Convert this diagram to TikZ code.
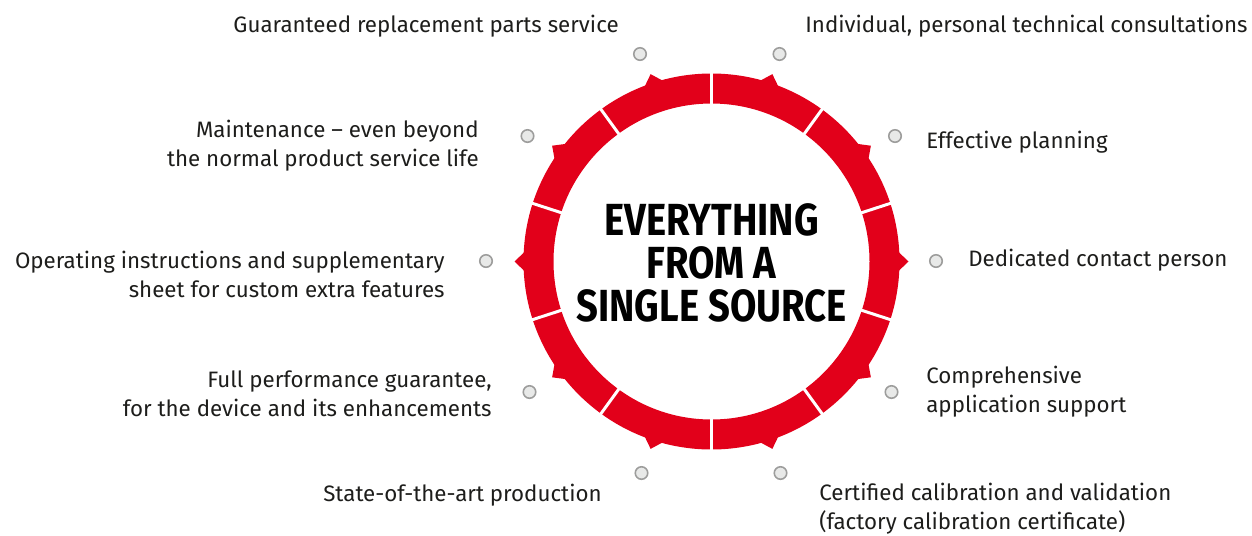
\documentclass[tikz,border=0pt]{standalone}
\usepackage{fontspec}
\setmainfont{Fira Sans}
\newfontfamily\hubfont{Fira Sans}[FakeStretch=0.85]
\usepackage{xcolor}
\usetikzlibrary{positioning}

\definecolor{ringred}{HTML}{E2001A}
\definecolor{dotline}{HTML}{9D9D9C}
\definecolor{dotfill}{HTML}{E8E9E8}
\definecolor{ink}{HTML}{1D1D1B}

\begin{document}
\begin{tikzpicture}[
  x=0.02cm, y=-0.02cm,
  item/.style={inner sep=0pt, text=ink, font=\fontsize{12.7}{16.5}\selectfont},
  itemleft/.style={item, anchor=east, align=right},
  itemright/.style={item, anchor=west, align=left},
  dot/.style={draw=dotline, fill=dotfill, circle, line width=0.9pt, minimum size=0.25cm, inner sep=0pt},
  hub/.style={align=center, text=black, font=\hubfont\bfseries\fontsize{25.6}{24.4}\selectfont},
  divider/.style={draw=white, line width=1.7pt}
]
\useasboundingbox (0,0) rectangle (1252,535);

% Ring
\begin{scope}[shift={(711.5,261.5)}, yscale=-1]
  \fill[ringred, even odd rule] (0,0) circle (188) (0,0) circle (158);
  \foreach \a in {0,36,...,324}
    \fill[ringred] (\a-3:187) -- (\a:197) -- (\a+3:187) -- cycle;
  \foreach \a in {18,54,...,342}
    \draw[divider] (\a:154) -- (\a:192);
\end{scope}

\node[hub] (hub) at (711.5,263) {EVERYTHING\\FROM A\\SINGLE SOURCE};

% Dots
\node[dot] (d-parts) at (640,54) {};
\node[dot] (d-consult) at (779.5,54) {};
\node[dot] (d-planning) at (895,136) {};
\node[dot] (d-contact) at (936,261) {};
\node[dot] (d-support) at (891.5,392) {};
\node[dot] (d-calib) at (780.5,473) {};
\node[dot] (d-production) at (641.5,473) {};
\node[dot] (d-guarantee) at (529.5,392) {};
\node[dot] (d-manual) at (486,261) {};
\node[dot] (d-maint) at (527.5,136) {};

% Services, right side
\node[itemright] (consult) at (805,26) {Individual, personal technical consultations};
\node[itemright] (planning) at (926,142) {Effective planning};
\node[itemright] (contact) at (968,260) {Dedicated contact person};
\node[itemright] (support) at (926,392) {Comprehensive\\application support};
\node[itemright] (calib) at (819,509) {Certified calibration and validation\\(factory calibration certificate)};

% Services, left side
\node[itemleft] (parts) at (619,26) {Guaranteed replacement parts service};
\node[itemleft] (maint) at (479,146) {Maintenance – even beyond\\the normal product service life};
\node[itemleft] (manual) at (445,274) {Operating instructions and supplementary\\sheet for custom extra features};
\node[itemleft] (guarantee) at (492,394) {Full performance guarantee,\\for the device and its enhancements};
\node[itemleft] (production) at (602,495) {State-of-the-art production};

\end{tikzpicture}
\end{document}
